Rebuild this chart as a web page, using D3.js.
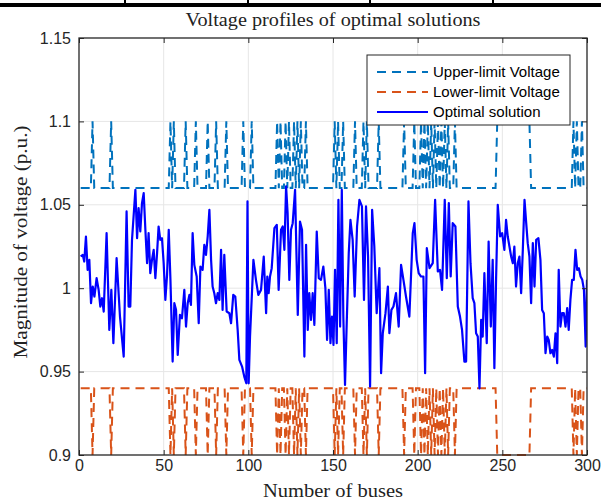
<!DOCTYPE html>
<html>
<head>
<meta charset="utf-8">
<script src="https://cdn.jsdelivr.net/npm/d3@7"></script>
<style>
  body { margin: 0; background: #fff; }
  svg { display: block; }
</style>
</head>
<body>
<div id="chart"></div>
<script>
// bus numbers 1..300 and the buses where the limits open up to 1.1 / 0.9
var buses = d3.range(1, 301);
var wideBuses = [8, 19, 54, 56, 63, 69, 76, 81, 87, 97, 102,
  117, 119, 122, 124, 127, 129, 131, 134,
  151, 153, 156, 163, 168, 170, 177, 192, 198,
  202, 204, 206, 208, 210, 212, 214, 216, 218, 222,
  247, 248, 249, 250, 251, 252, 253, 254, 255, 256, 257, 258, 259, 260, 261, 262, 263, 264, 265, 266,
  292, 294, 297];
var upperNormal = 1.06, upperWide = 1.1;
var lowerNormal = 0.94, lowerWide = 0.9;

// optimal solution (bus, p.u.)
var solBus = [1, 2.2, 3.1, 4.1, 5.1, 6.1, 7.1, 8.1, 9.1, 10.4, 11.6, 12.6, 13.6, 14.6, 16.3, 17.9, 19.1, 20.3, 22.2, 24.2,
  26.4, 28.1, 29.3, 30.3, 31.3, 33.3, 34.3, 35.2, 36.2, 37.2, 38.2, 39.2, 40.2, 41.1, 42.1, 43.1, 44.1, 45.1, 46.1, 47,
  48, 49, 50, 51, 52, 53, 54, 55.3, 56.3, 57.3, 58.3, 59.6, 60.8, 62.2, 63.2, 64.2, 65.2, 66.1, 67.1, 68.1,
  69.5, 70.7, 71.7, 73, 74, 75, 76, 77, 78, 78.9, 79.9, 80.9, 81.9, 82.9, 83.9, 84.8, 85.8, 87.2, 88.8, 89.8,
  91.1, 92.3, 93.7, 94.7, 96.3, 97.6, 98.8, 99.5, 100.2, 101, 103, 104.5, 105.9, 107.5, 109.1, 110.5, 111.2, 112, 112.8, 113.8,
  115.4, 116.8, 117.9, 119.3, 120.3, 121.3, 122.3, 123.2, 124.2, 125.2, 126.2, 127.6, 129.2, 130.5, 131.7, 133.1, 134.1, 135.1, 136, 137,
  138, 139, 140.4, 141.6, 142.9, 144.3, 145.5, 146.5, 147.5, 148.5, 149.4, 150.3, 151.2, 152.2, 153.2, 154.2, 155.2, 156.1, 157.1, 158.1,
  159.3, 160.3, 161.6, 162.8, 164.2, 165.6, 167.1, 168.3, 169.5, 170.7, 171.9, 173.1, 174.4, 175.8, 177.4, 178.4, 179.4, 181, 182.4, 183.3,
  184.5, 185.7, 187.2, 188.8, 190.2, 191.6, 193.1, 195.1, 197.1, 198.1, 199.4, 200.6, 202, 203.4, 204.4, 205.4, 207, 208.9, 210.3, 211.9,
  213.2, 214.4, 216, 217.2, 218.4, 219.5, 220.7, 222.3, 223.7, 225, 226.2, 227.6, 228.6, 230, 231.2, 232.5, 233.5, 234.5, 235.5, 236.5,
  237.5, 238.4, 239.4, 240.8, 241.9, 243.2, 244.3, 245.3, 246.3, 247.3, 248.7, 249.9, 251.2, 252.2, 253.2, 254.2, 255.2, 256.2, 257.1, 258.1,
  259.1, 260.1, 261.1, 262.1, 263.1, 264.1, 265, 266, 267, 268, 269, 270, 271.3, 272.5, 273.5, 274.5, 275.5, 276.5, 277.4, 278.4,
  279.4, 280.4, 281.4, 282.4, 283.3, 284.3, 285.3, 286.3, 287.3, 288.3, 289.2, 290.2, 291.2, 292.2, 293.2, 294.2, 295.2, 296.2, 297.2, 298.2,
  299.2, 300];
var solVolt = [1.019, 1.020, 1.016, 1.031, 1.011, 1.017, 0.991, 1.001, 0.995, 1.006, 0.999, 0.989, 0.994, 0.986, 1.033, 0.975, 0.999, 0.967, 1.018, 0.983,
  0.959, 1.046, 0.989, 0.989, 1.029, 1.059, 1.030, 1.048, 1.034, 1.051, 1.057, 1.035, 1.015, 1.033, 1.009, 1.017, 1.023, 1.006, 1.021, 1.037,
  1.029, 1.030, 1.015, 0.993, 1.008, 1.035, 1.005, 0.956, 0.991, 0.987, 0.960, 0.984, 0.982, 0.999, 0.977, 0.991, 0.996, 0.990, 1.033, 1.014,
  1.007, 0.979, 1.013, 1.011, 1.026, 1.020, 1.031, 1.047, 1.017, 1.001, 0.997, 0.991, 0.997, 0.993, 1.023, 0.987, 1.020, 0.986, 0.985, 0.979,
  0.996, 0.995, 0.975, 0.957, 0.953, 0.947, 0.943, 1.052, 0.943, 0.971, 1.017, 1.005, 0.996, 0.999, 1.019, 0.985, 1.007, 0.997, 1.007, 1.012,
  1.036, 1.038, 0.999, 1.035, 1.037, 1.023, 1.061, 1.045, 1.005, 1.035, 1.039, 1.059, 0.984, 1.040, 1.035, 0.959, 1.026, 0.975, 0.997, 0.981,
  0.997, 0.978, 1.034, 1.006, 1.005, 1.013, 1.000, 0.969, 0.999, 0.967, 0.983, 0.966, 1.011, 0.967, 1.053, 0.977, 1.059, 0.983, 0.942, 0.979,
  1.021, 1.041, 1.029, 0.995, 1.037, 1.053, 1.049, 0.993, 1.049, 1.019, 0.941, 1.047, 1.025, 0.985, 1.012, 0.949, 0.973, 0.985, 1.001, 0.973,
  0.987, 0.989, 0.997, 0.977, 1.014, 1.005, 0.995, 0.983, 1.033, 1.039, 1.017, 1.009, 1.007, 1.007, 0.949, 1.024, 1.012, 1.015, 1.053, 1.010,
  1.011, 0.999, 1.053, 1.006, 1.051, 1.007, 1.039, 1.037, 0.989, 0.983, 0.975, 0.956, 0.956, 1.052, 1.015, 0.994, 0.991, 0.973, 0.971, 0.940,
  0.981, 0.971, 1.009, 0.967, 1.028, 0.977, 1.017, 0.952, 1.005, 1.050, 1.031, 1.033, 1.023, 1.041, 1.031, 1.025, 1.019, 1.015, 1.025, 1.001,
  1.015, 1.019, 0.997, 1.023, 1.053, 1.039, 1.027, 1.019, 0.991, 1.027, 1.001, 1.029, 1.030, 1.017, 0.987, 0.985, 0.961, 0.971, 0.969, 0.961,
  0.963, 0.959, 0.973, 0.955, 1.011, 0.977, 0.985, 0.985, 0.977, 0.988, 0.975, 0.993, 1.005, 1.005, 1.023, 1.011, 1.012, 1.007, 1.005, 0.999,
  0.965, 1.005];

var xTicks = [0, 50, 100, 150, 200, 250, 300];
var yTicks = [0.9, 0.95, 1, 1.05, 1.1, 1.15];
var yTickLabels = ["0.9", "0.95", "1", "1.05", "1.1", "1.15"];
var seriesNames = ["Upper-limit Voltage", "Lower-limit Voltage", "Optimal solution"];
var seriesColors = ["#0072BD", "#D95319", "#0000FF"];

var W = 601, H = 502;
var m = {left: 79, right: 587, top: 38, bottom: 455};

var svg = d3.select("#chart").append("svg")
    .attr("width", W).attr("height", H);
svg.append("rect").attr("width", W).attr("height", H).attr("fill", "#fff");

// bit of the table sitting above the figure
var tableCuts = [125, 248, 370, 493];
svg.append("rect").attr("x", 0).attr("y", 3).attr("width", W).attr("height", 4).attr("fill", "#000");
svg.selectAll(".cut").data(tableCuts).enter().append("rect")
    .attr("x", function(d){ return d - 1; }).attr("y", 0)
    .attr("width", 2).attr("height", 4).attr("fill", "#000");
svg.selectAll(".comma").data([75, 194, 267, 389, 405, 512]).enter().append("text")
    .attr("x", function(d){ return d; }).attr("y", 4.5)
    .attr("font-family", "Liberation Serif").attr("font-size", 5)
    .text(",");

var x = d3.scaleLinear().domain([0, 300]).range([m.left, m.right]);
var y = d3.scaleLinear().domain([0.9, 1.15]).range([m.bottom, m.top]);

// grid
var grid = svg.append("g").attr("stroke", "#e6e6e6").attr("stroke-width", 1);
grid.selectAll(".gx").data(xTicks.slice(1, -1)).enter().append("line")
    .attr("x1", x).attr("x2", x).attr("y1", m.top).attr("y2", m.bottom);
grid.selectAll(".gy").data(yTicks.slice(1, -1)).enter().append("line")
    .attr("y1", y).attr("y2", y).attr("x1", m.left).attr("x2", m.right);

svg.append("clipPath").attr("id", "clip").append("rect")
    .attr("x", m.left).attr("y", m.top - 1)
    .attr("width", m.right - m.left).attr("height", m.bottom - m.top + 2);

var wide = new Set(wideBuses);
var upper = buses.map(function(b){ return [b, wide.has(b) ? upperWide : upperNormal]; });
var lower = buses.map(function(b){ return [b, wide.has(b) ? lowerWide : lowerNormal]; });
var sol = solBus.map(function(b, i){ return [b, solVolt[i]]; });

var line = d3.line()
    .x(function(d){ return x(d[0]); })
    .y(function(d){ return y(d[1]); });

var plot = svg.append("g").attr("clip-path", "url(#clip)");
plot.append("path").datum(upper).attr("d", line)
    .attr("fill", "none").attr("stroke", seriesColors[0]).attr("stroke-width", 2)
    .attr("stroke-dasharray", "9,6");
plot.append("path").datum(lower).attr("d", line)
    .attr("fill", "none").attr("stroke", seriesColors[1]).attr("stroke-width", 2)
    .attr("stroke-dasharray", "9,6");
plot.append("path").datum(sol).attr("d", line)
    .attr("fill", "none").attr("stroke", seriesColors[2]).attr("stroke-width", 2.2)
    .attr("stroke-linejoin", "round");

// axes, MATLAB style: ticks inside, box on
var axisFont = "Liberation Sans, Arial, Helvetica, sans-serif";
var gx = svg.append("g").attr("transform", "translate(0," + m.bottom + ")")
    .call(d3.axisBottom(x).tickValues(xTicks).tickSizeInner(-5).tickSizeOuter(0).tickPadding(5));
var gxTop = svg.append("g").attr("transform", "translate(0," + m.top + ")")
    .call(d3.axisTop(x).tickValues(xTicks).tickSizeInner(-5).tickSizeOuter(0).tickFormat(""));
var gy = svg.append("g").attr("transform", "translate(" + m.left + ",0)")
    .call(d3.axisLeft(y).tickValues(yTicks).tickSizeInner(-5).tickSizeOuter(0).tickPadding(8)
      .tickFormat(function(d, i){ return yTickLabels[i]; }));
var gyRight = svg.append("g").attr("transform", "translate(" + m.right + ",0)")
    .call(d3.axisRight(y).tickValues(yTicks).tickSizeInner(-5).tickSizeOuter(0).tickFormat(""));

[gx, gxTop, gy, gyRight].forEach(function(g){
  g.select(".domain").remove();
  g.selectAll("line").attr("stroke", "#262626");
  g.selectAll("text").attr("fill", "#262626").attr("font-family", axisFont).attr("font-size", 16);
});

svg.append("rect")
    .attr("x", m.left).attr("y", m.top)
    .attr("width", m.right - m.left).attr("height", m.bottom - m.top)
    .attr("fill", "none").attr("stroke", "#262626").attr("stroke-width", 1.3);

// titles (LaTeX-looking serif)
var serif = "Liberation Serif, Times New Roman, serif";
svg.append("text").attr("x", (m.left + m.right) / 2).attr("y", 26)
    .attr("text-anchor", "middle").attr("font-family", serif).attr("font-size", 18)
    .attr("fill", "#222").attr("textLength", 295).attr("lengthAdjust", "spacingAndGlyphs")
    .text("Voltage profiles of optimal solutions");
svg.append("text").attr("x", (m.left + m.right) / 2).attr("y", 497)
    .attr("text-anchor", "middle").attr("font-family", serif).attr("font-size", 18)
    .attr("fill", "#222").attr("textLength", 140).attr("lengthAdjust", "spacingAndGlyphs")
    .text("Number of buses");
svg.append("text").attr("transform", "translate(27," + 242 + ") rotate(-90)")
    .attr("text-anchor", "middle").attr("font-family", serif).attr("font-size", 18)
    .attr("fill", "#222").attr("textLength", 233).attr("lengthAdjust", "spacingAndGlyphs")
    .text("Magnitude of voltage (p.u.)");

// legend
var lg = svg.append("g");
lg.append("rect").attr("x", 367).attr("y", 55).attr("width", 203).attr("height", 70)
    .attr("fill", "#fff").attr("stroke", "#262626").attr("stroke-width", 1);
var rows = lg.selectAll(".row").data(seriesNames).enter().append("g")
    .attr("transform", function(d, i){ return "translate(0," + (72 + i * 20) + ")"; });
rows.append("line").attr("x1", 377).attr("x2", 428).attr("y1", 0).attr("y2", 0)
    .attr("stroke", function(d, i){ return seriesColors[i]; }).attr("stroke-width", 2)
    .attr("stroke-dasharray", function(d, i){ return i < 2 ? "9,6" : null; });
rows.append("text").attr("x", 433).attr("y", 0).attr("dy", "0.35em")
    .attr("font-family", axisFont).attr("font-size", 15).attr("fill", "#000")
    .text(function(d){ return d; });
</script>
</body>
</html>
